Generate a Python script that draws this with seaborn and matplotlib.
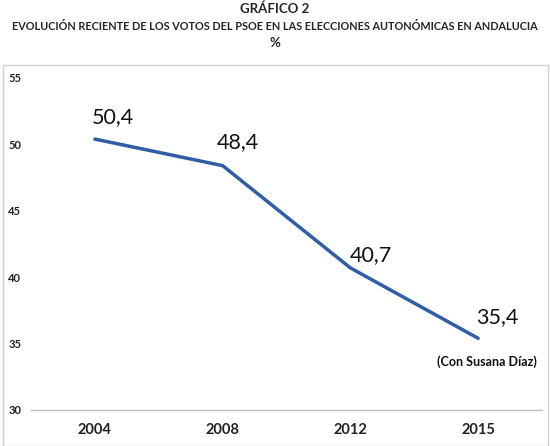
import matplotlib
matplotlib.use("Agg")
import matplotlib.pyplot as plt
import seaborn as sns
import pandas as pd
from matplotlib.patches import Rectangle

years = ["2004", "2008", "2012", "2015"]
votes = [50.4, 48.4, 40.7, 35.4]
labels = ["50,4", "48,4", "40,7", "35,4"]
yticks = [30, 35, 40, 45, 50, 55]

sns.set_style("white")
plt.rcParams['font.family'] = ['Lato', 'DejaVu Sans']

df = pd.DataFrame({"year": years, "votes": votes})

W, H = 550, 446
fig = plt.figure(figsize=(W/100, H/100), dpi=100)
ax = fig.add_axes([31/W, 1 - 410/H, (542-31)/W, (410-78)/H])

sns.lineplot(data=df, x="year", y="votes", ax=ax, color="#2F5DA6", linewidth=2.5, sort=False)

ax.set_xlim(-0.5, 3.5)
ax.set_ylim(30, 55)
ax.set_yticks(yticks)
ax.set_yticklabels([str(t) for t in yticks], fontsize=8, fontweight="bold", color="#222222", ha="left")
ax.tick_params(axis="y", length=0, pad=16.5)
ax.tick_params(axis="x", length=0, pad=9)
for t in ax.get_xticklabels():
    t.set_fontsize(10.5)
    t.set_fontweight("bold")
    t.set_color("#222222")
ax.set_xlabel("")
ax.set_ylabel("")
for s in ["top", "right", "left"]:
    ax.spines[s].set_visible(False)
ax.spines["bottom"].set_color("#BBBBBB")
ax.spines["bottom"].set_linewidth(1)

offsets = [(18, 22), (15, 24), (21, 13), (19, 21)]
for i, (v, lab) in enumerate(zip(votes, labels)):
    ax.annotate(lab, (i, v), xytext=offsets[i], textcoords="offset pixels",
                ha="center", va="center", fontsize=15.5, color="#111111")

ax.annotate("(Con Susana Díaz)", (3, votes[3]), xytext=(9, -23), textcoords="offset pixels",
            ha="center", va="center", fontsize=9, fontweight="bold", color="#111111")

fig.text(0.5, 1 - 9/H, "GRÁFICO 2", ha="center", va="center", fontsize=9.5, fontweight="bold")
fig.text(0.5, 1 - 26/H, "EVOLUCIÓN RECIENTE DE LOS VOTOS DEL PSOE EN LAS ELECCIONES AUTONÓMICAS EN ANDALUCIA",
         ha="center", va="center", fontsize=7.8, fontweight="bold")
fig.text(0.5, 1 - 43/H, "%", ha="center", va="center", fontsize=9.5, fontweight="bold")

fig.patches.append(Rectangle((3/W, 0), (548-3)/W, (H-65)/H, transform=fig.transFigure,
                             fill=False, edgecolor="#D0D0D0", linewidth=1))

fig.savefig("out.png", dpi=100)
